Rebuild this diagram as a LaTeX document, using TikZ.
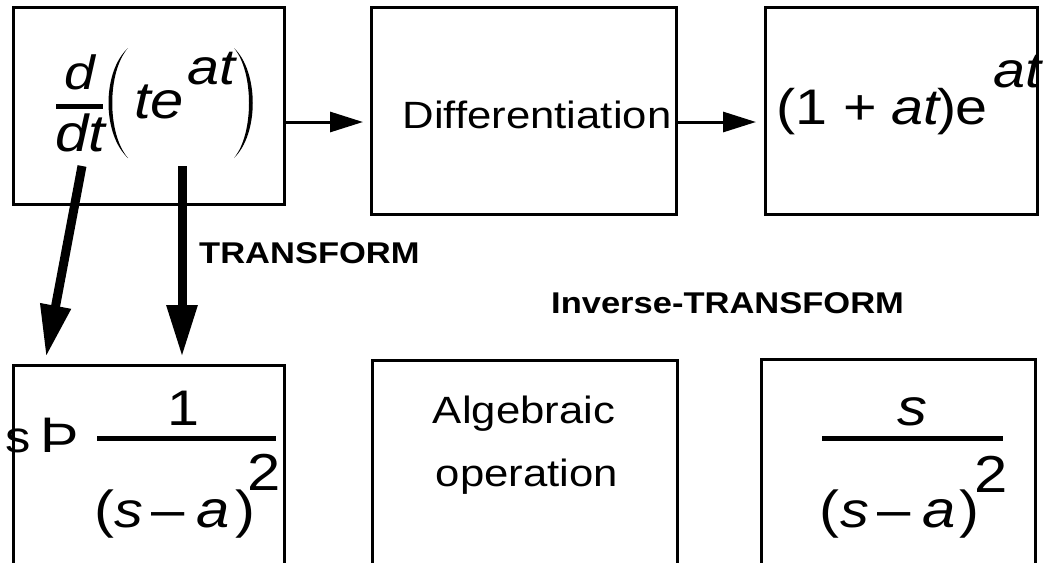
\documentclass[tikz,border=0pt]{standalone}
\usepackage{fontspec}
\setmainfont{Liberation Sans}[FakeStretch=1.15]
\usetikzlibrary{arrows.meta}
\newcommand\Mf[1]{\fontsize{#1}{#1}\selectfont}
\begin{document}
\begin{tikzpicture}[x=1pt,y=-1pt,
  box/.style={draw,line width=3pt,rectangle,inner sep=0pt},
  thinarr/.style={line width=3pt,-{Triangle[length=33pt,width=20pt]}},
  thickarr/.style={line width=9pt,-{Triangle[length=52pt,width=29pt]}},
  txt/.style={inner sep=0pt,anchor=base west},
  ctxt/.style={inner sep=0pt,anchor=base},
  lbl/.style={inner sep=0pt,anchor=base west,font=\Mf{30}\bfseries},
  fbar/.style={line width=5pt},
  paren/.style={fill=black}]
\useasboundingbox (0,0) rectangle (1043,562);
\clip (0,0) rectangle (1043,562);

% boxes
\node[box,minimum width=271pt,minimum height=197pt] (b1) at (149,106) {};
\node[box,minimum width=305pt,minimum height=207pt] (b2) at (524,111) {};
\node[box,minimum width=272pt,minimum height=207pt] (b3) at (901.5,111) {};
\node[box,minimum width=271pt,minimum height=280pt] (b4) at (149,505) {};
\node[box,minimum width=305pt,minimum height=280pt] (b5) at (524.5,500) {};
\node[box,minimum width=274pt,minimum height=280pt] (b6) at (898,499) {};

% horizontal arrows
\draw[thinarr,shorten >=7pt] (b1.east |- 0,122) -- (b2.west |- 0,122);
\draw[thinarr,shorten >=8pt] (b2.east |- 0,122) -- (b3.west |- 0,122);

% thick transform arrows
\coordinate (v1s) at (182,166);
\coordinate (v1e) at (182,357);
\coordinate (v2s) at (82,166);
\coordinate (v2e) at (46,357);
\draw[thickarr] (v1s) -- (v1e);
\draw[thickarr] (v2s) -- (v2e);

% labels
\node[lbl] (tr) at (199,263) {TRANSFORM};
\node[lbl] (itr) at (551,313) {Inverse-TRANSFORM};

% box 1: d/dt ( t e^{at} )
\node[ctxt] (n1) at (80,89) {\Mf{48}\itshape d};
\draw[fbar] (56,106) -- (103,106);
\node[txt] (n2) at (55,151) {\Mf{52}\itshape dt};
\fill[paren] (128,48) .. controls (102,72) and (102,134) .. (128,158)
   .. controls (107,134) and (107,72) .. (128,48);
\fill[paren] (234,48) .. controls (259,72) and (259,134) .. (234,158)
   .. controls (254,134) and (254,72) .. (234,48);
\node[txt] (n3) at (134,118) {\Mf{52}\itshape te};
\node[txt] (n4) at (187,84) {\Mf{50}\itshape at};

% box 2
\node[ctxt] (n5) at (537,128) {\Mf{38}Differentiation};

% box 3: (1 + at) e^{at}
\node[txt] (n6) at (776,124) {\Mf{50}(1 +};
\node[txt] (n7) at (891,124) {\Mf{50}\itshape at};
\node[txt] (n8) at (937,124) {\Mf{50})};
\node[txt] (n9) at (955,124) {\Mf{50}e};
\node[txt] (n10) at (993,87) {\Mf{50}\itshape at};

% box 4
\node[txt] (n11) at (5,452) {\Mf{44}s};
\node[txt] (n12) at (40,452) {\Mf{50}Þ};
\node[ctxt] (n13) at (183,425) {\Mf{50}1};
\draw[fbar] (97,438) -- (276,438);
\node[txt] (n14) at (94,527) {\Mf{52}(};
\node[txt] (n15) at (114,527) {\Mf{50}\itshape s};
\node[txt] (n16) at (151,527) {\Mf{52}–};
\node[txt] (n17) at (196,527) {\Mf{52}\itshape a};
\node[txt] (n18) at (235,527) {\Mf{52})};
\node[txt] (n19) at (247,490) {\Mf{52}2};

% box 5
\node[ctxt] (n20) at (524,423) {\Mf{38}Algebraic};
\node[ctxt] (n21) at (527,486) {\Mf{38}operation};

% box 6
\node[ctxt] (n22) at (912,425) {\Mf{52}\itshape s};
\draw[fbar] (822,438) -- (1003,438);
\node[txt] (n23) at (819,527) {\Mf{52}(};
\node[txt] (n24) at (840,527) {\Mf{50}\itshape s};
\node[txt] (n25) at (877,527) {\Mf{52}–};
\node[txt] (n26) at (922,527) {\Mf{52}\itshape a};
\node[txt] (n27) at (959,527) {\Mf{52})};
\node[txt] (n28) at (974,492) {\Mf{52}2};
\end{tikzpicture}
\end{document}
